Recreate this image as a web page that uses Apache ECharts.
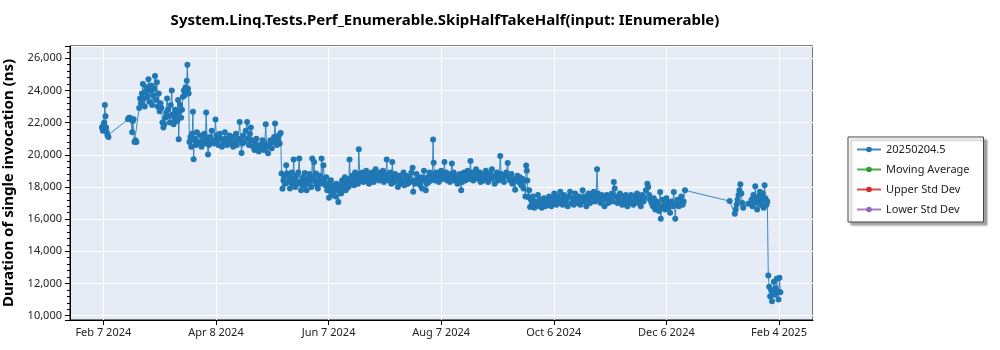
<!DOCTYPE html>
<html><head><meta charset="utf-8">
<script src="https://cdn.jsdelivr.net/npm/echarts@6/dist/echarts.min.js"></script>
<style>html,body{margin:0;padding:0;background:#fff}#chart{width:1000px;height:350px}</style>
</head><body><div id="chart"></div>
<script>
const chartTitle = 'System.Linq.Tests.Perf_Enumerable.SkipHalfTakeHalf(input: IEnumerable)';
const yAxisTitle = 'Duration of single invocation (ns)';
const seriesNames = ['20250204.5', 'Moving Average', 'Upper Std Dev', 'Lower Std Dev'];
const seriesColors = ['#1f77b4', '#2ca02c', '#d62728', '#9467bd'];
const xTickStart = '2024-02-07';
const xTickStepDays = 60.5;
const monthNames = ['Jan','Feb','Mar','Apr','May','Jun','Jul','Aug','Sep','Oct','Nov','Dec'];

// run dates (one per day that had runs) and the values measured on that day
const dates = [
'2024-02-06','2024-02-07','2024-02-08','2024-02-09','2024-02-20','2024-02-21','2024-02-22','2024-02-23','2024-02-24','2024-02-26','2024-02-27','2024-02-28','2024-02-29',
'2024-03-01','2024-03-02','2024-03-03','2024-03-04','2024-03-05','2024-03-06','2024-03-07','2024-03-08','2024-03-09','2024-03-10','2024-03-11','2024-03-12','2024-03-13','2024-03-14','2024-03-15','2024-03-16','2024-03-17','2024-03-18','2024-03-19','2024-03-20','2024-03-21','2024-03-22','2024-03-23','2024-03-24','2024-03-25','2024-03-26','2024-03-27','2024-03-28','2024-03-29','2024-03-30','2024-03-31',
'2024-04-01','2024-04-02','2024-04-03','2024-04-04','2024-04-05','2024-04-06','2024-04-07','2024-04-08','2024-04-09','2024-04-10','2024-04-11','2024-04-12','2024-04-13','2024-04-14','2024-04-15','2024-04-16','2024-04-17','2024-04-18','2024-04-19','2024-04-20','2024-04-21','2024-04-22','2024-04-23','2024-04-24','2024-04-25','2024-04-26','2024-04-27','2024-04-28','2024-04-29','2024-04-30',
'2024-05-01','2024-05-02','2024-05-03','2024-05-04','2024-05-05','2024-05-06','2024-05-07','2024-05-08','2024-05-09','2024-05-10','2024-05-11','2024-05-12','2024-05-13','2024-05-14','2024-05-15','2024-05-16','2024-05-17','2024-05-18','2024-05-19','2024-05-20','2024-05-21','2024-05-22','2024-05-23','2024-05-24','2024-05-25','2024-05-26','2024-05-27','2024-05-28','2024-05-29','2024-05-30','2024-05-31',
'2024-06-01','2024-06-02','2024-06-03','2024-06-04','2024-06-05','2024-06-06','2024-06-07','2024-06-08','2024-06-09','2024-06-10','2024-06-11','2024-06-12','2024-06-13','2024-06-14','2024-06-15','2024-06-16','2024-06-17','2024-06-18','2024-06-19','2024-06-20','2024-06-21','2024-06-22','2024-06-23','2024-06-24','2024-06-25','2024-06-26','2024-06-27','2024-06-28','2024-06-29','2024-06-30',
'2024-07-01','2024-07-02','2024-07-03','2024-07-04','2024-07-05','2024-07-06','2024-07-07','2024-07-08','2024-07-09','2024-07-10','2024-07-11','2024-07-12','2024-07-13','2024-07-14','2024-07-15','2024-07-16','2024-07-17','2024-07-18','2024-07-19','2024-07-20','2024-07-21','2024-07-22','2024-07-23','2024-07-24','2024-07-25','2024-07-26','2024-07-27','2024-07-28','2024-07-29','2024-07-30','2024-07-31',
'2024-08-01','2024-08-02','2024-08-03','2024-08-04','2024-08-05','2024-08-06','2024-08-07','2024-08-08','2024-08-09','2024-08-10','2024-08-11','2024-08-12','2024-08-13','2024-08-14','2024-08-15','2024-08-16','2024-08-17','2024-08-18','2024-08-19','2024-08-20','2024-08-21','2024-08-22','2024-08-23','2024-08-24','2024-08-25','2024-08-26','2024-08-27','2024-08-28','2024-08-29','2024-08-30','2024-08-31',
'2024-09-01','2024-09-02','2024-09-03','2024-09-04','2024-09-05','2024-09-06','2024-09-07','2024-09-08','2024-09-09','2024-09-10','2024-09-11','2024-09-12','2024-09-13','2024-09-14','2024-09-15','2024-09-16','2024-09-17','2024-09-18','2024-09-19','2024-09-20','2024-09-21','2024-09-22','2024-09-23','2024-09-24','2024-09-25','2024-09-26','2024-09-27','2024-09-28','2024-09-29','2024-09-30',
'2024-10-01','2024-10-02','2024-10-03','2024-10-04','2024-10-05','2024-10-06','2024-10-07','2024-10-08','2024-10-09','2024-10-10','2024-10-11','2024-10-12','2024-10-13','2024-10-14','2024-10-15','2024-10-16','2024-10-17','2024-10-18','2024-10-19','2024-10-20','2024-10-21','2024-10-22','2024-10-23','2024-10-24','2024-10-25','2024-10-26','2024-10-27','2024-10-28','2024-10-29','2024-10-30','2024-10-31',
'2024-11-01','2024-11-02','2024-11-03','2024-11-04','2024-11-05','2024-11-06','2024-11-07','2024-11-08','2024-11-09','2024-11-10','2024-11-11','2024-11-12','2024-11-13','2024-11-14','2024-11-15','2024-11-16','2024-11-17','2024-11-18','2024-11-19','2024-11-20','2024-11-21','2024-11-22','2024-11-23','2024-11-24','2024-11-25','2024-11-26','2024-11-27','2024-11-28','2024-11-29','2024-11-30',
'2024-12-01','2024-12-02','2024-12-03','2024-12-04','2024-12-05','2024-12-06','2024-12-07','2024-12-08','2024-12-09','2024-12-10','2024-12-11','2024-12-12','2024-12-13','2024-12-14','2024-12-15',
'2025-01-08','2025-01-11','2025-01-12','2025-01-13','2025-01-14','2025-01-15','2025-01-18','2025-01-20','2025-01-21','2025-01-22','2025-01-23','2025-01-24','2025-01-25','2025-01-26','2025-01-27','2025-01-28','2025-01-29','2025-01-30','2025-01-31',
'2025-02-01','2025-02-02','2025-02-03','2025-02-04'
];
const values = [
[21700,21500],[21900,22000,23100],[22400,21700,21400],[21200,21100],[22200,22300],[22300,22200],[22200,21400,22100],[22200,20800],[20900,20800],[22900,23500],[23200,23800],[24400,23500],[23000,23900],
[24200,23600],[24700,23300],[24000,24300],[23100,23700],[24100,24900],[23400,24500],[23000,23800],[22700,23200],[22900,22000],[21700,21900],[22300,22600],[23500,22800],[22400,22000],[23100,24000],[22500,21900],[22200,22800],[22500,22100],[23400,20960,22700],[23100,22300],[22800,23600],[24000,23700],[24200,23900,24600],[25600,24100,23800],[20800,21100],[20500,21300],[22670,19720,20900],[21000,20600],[21400,20800],[20700],[21200,20500],[20900],
[21300,20700],[22630,21000],[20010,20600],[21100,20800],[21500,20900],[20700],[22190,21200],[20900,20600],[21300],[21000,20500],[20800],[21400,21000],[20600],[20900,21200],[20700],[21100,20500],[20800],[21300,20600],[21000],[22040,20900],[20110,20700],[21200,20800],[21500],[22040,21000],[20600,21300],[21700,20900],[20500],[20300,20700],[21000,20400],[20200],
[20600,20400],[20900],[20300,20700],[21900,20500],[20100],[20600,20900],[20400],[20800,21100],[21940,20900],[20600,21000],[21200,20700],[21360,18830],[17890,18400],[18700,18200],[19350,18830],[18300,18600],[17900,18500],[18900,18200],[19700,18500],[18000,18700],[18300,18900],[19760,18200],[17790,18400],[18600,18100],[18870,18300],[17800,18500],[18200,18800],[18400,18000],[19760,18600],[19550,18300],[18830,18100],
[17900,18400],[18700,18200],[19760,18500],[19350,18300],[18100,18600],[17790,18200],[17330,18000],[18410,17700],[17500,18100],[17900,17400],[18200,17800],[17060,17900],[18100,17600],[18400,17900],[18200,18600],[17800,18300],[18500,18000],[19700,18400],[18200,18700],[18500,18100],[18900,18300],[18600,18200],[20340,18800],[18400,18700],[18900,18300],[18600],[19000,18400],[18700,18200],[18500],[18900,18600],
[18300,18800],[19100,18500],[18700],[18400,18900],[18600],[19000,18300],[18800,18500],[19700,18700],[18400],[18900,18200],[19550,18600],[18300,18800],[18500],[18000,18400],[18700,18200],[18400],[18900,18100],[18500,18700],[18200],[18600,18300],[18900],[19200,17700,18400],[18200],[18800,18500],[18300],[18100,18600],[17900,18400],[19000,18500],[17800,18200],[18600,18300],[18900,18400],
[18500,18800],[20950,19510,18700],[18400,18900],[18600],[18300,18800],[19000],[18500,18700],[19550,18600],[18900,18400],[18700],[18300,18800],[19450,18600],[18900,18400],[18700],[18200,18500],[18800],[17790,18300],[18600,18900],[18400],[18800,19000],[18500],[19610,18700],[18900,18400],[18600],[19100,18800],[18500],[18900,18300],[18700],[18400,18800],[19000],[18600,18300],
[18800],[18500,19100],[18700],[18200,18600],[18900],[18400,18700],[19920,18800],[18500],[18300,18700],[18900],[19490,18600],[18400],[18800,18200],[18500],[17830,18400],[18700],[18300,18600],[18100],[18500,17900],[18400,17400],[19330,19000,18400],[17370,17800],[16750,17200],[16900,17400],[16700],[17100,16800],[17500],[16900,17200],[16700],[17000,17300],
[16800],[17200,16900],[17400],[17000,16800],[17300],[17600,17100],[16900],[17400,17000],[17700],[17200,16900],[17500],[17100,17300],[16800],[17400,17700],[17000],[17300,16900],[17600],[17200,17000],[17400],[16900,17300],[17800],[17100,17400],[16800],[17300,17600],[17000],[17500,17200],[17700],[17100,17400],[19100,17600],[17300],[17000,17500],
[17200],[16800,17300],[17500],[17000,17400],[17200],[17600,17100],[18300,17900],[17400],[17000,17300],[17600],[17200,16900],[17400],[17100,17500],[16800],[17300,17000],[17500],[17100,16900],[17400],[17200,17600],[17000],[17300,16800],[17500],[17100,17300],[17800],[18200,18000],[17500,17200],[17000],[16800,17300],[16600],[17100,16900],
[16500],[17680,16020,16700],[17200],[16900,16600],[17300],[16700,17000],[16400],[17100,16800],[17680],[16020,16900],[17200],[16800,17100],[17400],[16900,17100],[17790],
[17120],[16340,16600],[16900,17200],[17500,17800],[18160,17600],[17000,16700],[16960],[17200,16800],[17500,17000],[18040,17300],[16600,17100],[17400,17700],[16900,17200],[17600,16700],[18100,17300],[16900,17100],[12490,11800],[11200,11600],[10900,11400],
[12100,11300],[11700,12300],[11500,11000],[12350,11450]
];

const DAY = 86400000;
const baseMs = Date.parse(xTickStart + 'T00:00:00Z');
const stepMs = xTickStepDays * DAY;
const points = [];
dates.forEach((d, i) => {
  const dayMs = Date.parse(d + 'T00:00:00Z');
  const vals = values[i] || [];
  vals.forEach((v, j) => {
    const t = dayMs + (j + 0.5) / vals.length * DAY;
    points.push([(t - baseMs) / stepMs, v]);
  });
});

function fmtDate(v) {
  const t = baseMs + Math.round(v * 1e6) / 1e6 * stepMs;
  const dt = new Date(Math.round(t / DAY) * DAY);
  return monthNames[dt.getUTCMonth()] + ' ' + dt.getUTCDate() + ' ' + dt.getUTCFullYear();
}

const font = "'Noto Sans', 'Open Sans', sans-serif";
const chart = echarts.init(document.getElementById('chart'), null, {renderer: 'canvas'});
const series = seriesNames.map((name, k) => ({
  name: name,
  type: 'line',
  data: k === 0 ? points : [],
  symbol: 'circle',
  symbolSize: 6,
  showSymbol: true,
  color: seriesColors[k],
  itemStyle: {color: seriesColors[k]},
  lineStyle: {color: seriesColors[k], width: 1, opacity: 0.85},
  emphasis: {disabled: true},
  animation: false
}));

chart.setOption({
  animation: false,
  backgroundColor: '#fff',
  textStyle: {fontFamily: font},
  title: {
    text: chartTitle,
    left: 440, top: 8, textAlign: 'center',
    textStyle: {fontFamily: font, fontSize: 15, fontWeight: 'bold', color: '#000'}
  },
  grid: {
    left: 70, right: 187, top: 46, bottom: 30,
    show: true, backgroundColor: '#e5ecf6', borderColor: '#000', borderWidth: 1,
    containLabel: false, outerBoundsMode: 'none'
  },
  legend: {
    orient: 'vertical', left: 848, top: 137,
    data: seriesNames,
    backgroundColor: '#fff', borderColor: '#444', borderWidth: 1,
    shadowColor: 'rgba(0,0,0,0.35)', shadowOffsetX: 3, shadowOffsetY: 3, shadowBlur: 2,
    padding: [7, 14, 7, 8], itemGap: 9, itemWidth: 24, itemHeight: 7,
    textStyle: {fontFamily: font, fontSize: 11, color: '#222'},
    selectedMode: false
  },
  xAxis: {
    type: 'value', min: -0.296, max: 6.302, splitNumber: 6,
    axisLine: {show: true, onZero: false, lineStyle: {color: '#000', width: 1}},
    axisTick: {show: true, length: 5, lineStyle: {color: '#000'}},
    axisLabel: {formatter: fmtDate, color: '#222', fontSize: 11, margin: 7, showMinLabel: false, showMaxLabel: false, fontFamily: font},
    splitLine: {show: true, lineStyle: {color: '#fff', width: 1}}
  },
  yAxis: {
    type: 'value', min: 9730, max: 26760, splitNumber: 8,
    name: yAxisTitle, nameLocation: 'middle', nameGap: 51,
    nameTextStyle: {fontFamily: font, fontSize: 15, fontWeight: 'bold', color: '#000'},
    axisLine: {show: true, onZero: false, lineStyle: {color: '#000', width: 1}},
    axisTick: {show: true, length: 5, lineStyle: {color: '#000'}},
    minorTick: {show: true, splitNumber: 5, length: 3, lineStyle: {color: '#000'}},
    axisLabel: {formatter: v => Math.round(v).toLocaleString('en-US'), color: '#222', fontSize: 11, margin: 8, showMinLabel: false, showMaxLabel: false, fontFamily: font},
    splitLine: {show: true, lineStyle: {color: '#fff', width: 1}}
  },
  series: series
});
</script>
</body></html>
